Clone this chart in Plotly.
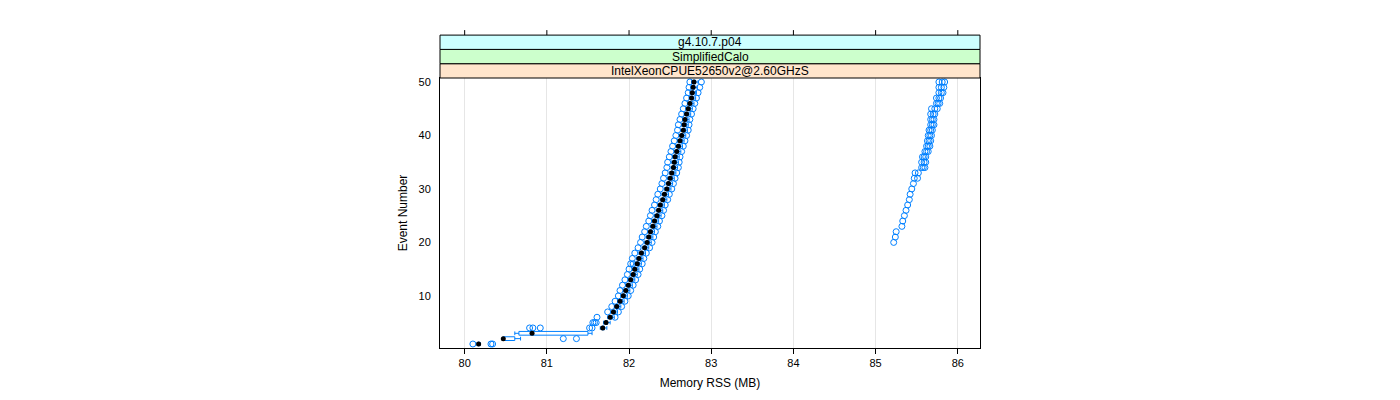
import plotly.graph_objects as go

# memory RSS per event, summarised as box stats (MB)
events = list(range(1, 51))

median = [80.17, 80.47, 80.82, 81.68, 81.72, 81.77, 81.81, 81.85, 81.89, 81.93,
          81.96, 81.99, 82.02, 82.05, 82.07, 82.10, 82.12, 82.15, 82.19, 82.22,
          82.24, 82.26, 82.29, 82.31, 82.34, 82.36, 82.38, 82.41, 82.43, 82.46,
          82.48, 82.50, 82.52, 82.54, 82.55, 82.56, 82.58, 82.60, 82.62, 82.64,
          82.66, 82.67, 82.68, 82.70, 82.72, 82.74, 82.76, 82.77, 82.78, 82.79]

q1 = [80.16, 80.47, 80.66, 81.67, 81.71, 81.76, 81.80, 81.84, 81.88, 81.92,
      81.95, 81.98, 82.01, 82.04, 82.06, 82.09, 82.11, 82.14, 82.18, 82.21,
      82.23, 82.25, 82.28, 82.30, 82.33, 82.35, 82.37, 82.40, 82.42, 82.45,
      82.47, 82.49, 82.51, 82.53, 82.54, 82.55, 82.57, 82.59, 82.61, 82.63,
      82.65, 82.66, 82.67, 82.69, 82.71, 82.73, 82.75, 82.76, 82.77, 82.78]

q3 = [80.18, 80.61, 81.50, 81.70, 81.74, 81.79, 81.83, 81.87, 81.91, 81.95,
      81.98, 82.01, 82.04, 82.07, 82.09, 82.12, 82.14, 82.17, 82.21, 82.24,
      82.26, 82.28, 82.31, 82.33, 82.36, 82.38, 82.40, 82.43, 82.45, 82.48,
      82.50, 82.52, 82.54, 82.56, 82.57, 82.58, 82.60, 82.62, 82.64, 82.66,
      82.68, 82.69, 82.70, 82.72, 82.74, 82.76, 82.78, 82.79, 82.80, 82.81]

lower = [80.15, 80.46, 80.61, 81.65, 81.69, 81.74, 81.78, 81.82, 81.86, 81.90,
         81.93, 81.96, 81.99, 82.02, 82.04, 82.07, 82.09, 82.12, 82.16, 82.19,
         82.21, 82.23, 82.26, 82.28, 82.31, 82.33, 82.35, 82.38, 82.40, 82.43,
         82.45, 82.47, 82.49, 82.51, 82.52, 82.53, 82.55, 82.57, 82.59, 82.61,
         82.63, 82.64, 82.65, 82.67, 82.69, 82.71, 82.73, 82.74, 82.75, 82.76]

upper = [80.19, 80.68, 81.55, 81.73, 81.77, 81.82, 81.86, 81.90, 81.94, 81.98,
         82.01, 82.04, 82.07, 82.10, 82.12, 82.15, 82.17, 82.20, 82.24, 82.27,
         82.29, 82.31, 82.34, 82.36, 82.39, 82.41, 82.43, 82.46, 82.48, 82.51,
         82.53, 82.55, 82.57, 82.59, 82.60, 82.61, 82.63, 82.65, 82.67, 82.69,
         82.71, 82.72, 82.73, 82.75, 82.77, 82.79, 82.81, 82.82, 82.83, 82.84]

# outliers for each event (same order as events)
outliers = [
    [80.10, 80.32, 80.34],
    [81.20, 81.36],
    [],
    [80.79, 80.83, 80.92, 81.52, 81.55],
    [81.56, 81.58, 81.60],
    [81.61, 81.83],
    [81.74, 81.87],
    [81.79, 81.91],
    [81.83, 81.95],
    [81.87, 81.99],
    [81.89, 82.02],
    [81.92, 82.05],
    [81.95, 82.08],
    [81.98, 82.11],
    [82.00, 82.13],
    [82.02, 82.05, 82.16],
    [82.04, 82.18],
    [82.07, 82.21],
    [82.11, 82.25],
    [82.14, 82.28, 85.22],
    [82.16, 82.30, 85.24],
    [82.19, 82.32, 85.25],
    [82.21, 82.35, 85.32],
    [82.24, 82.37, 85.33],
    [82.26, 82.40, 85.35],
    [82.28, 82.42, 85.37],
    [82.31, 82.44, 85.39],
    [82.33, 82.47, 85.41],
    [82.35, 82.49, 85.42],
    [82.38, 82.52, 85.44],
    [82.40, 82.54, 85.46],
    [82.42, 82.56, 85.47, 85.51],
    [82.44, 82.58, 85.48, 85.52],
    [82.46, 82.60, 85.56, 85.58, 85.60],
    [82.47, 82.61, 85.56, 85.59, 85.61],
    [82.49, 82.62, 85.57, 85.59, 85.61],
    [82.51, 82.64, 85.60, 85.62, 85.64],
    [82.53, 82.66, 85.62, 85.64, 85.66],
    [82.55, 82.68, 85.63, 85.65, 85.67],
    [82.57, 82.70, 85.64, 85.66, 85.68],
    [82.59, 82.72, 85.65, 85.67, 85.69],
    [82.60, 82.73, 85.67, 85.69, 85.71],
    [82.62, 82.74, 85.67, 85.69, 85.71],
    [82.64, 82.76, 85.67, 85.70, 85.72],
    [82.66, 82.78, 85.68, 85.72, 85.75],
    [82.68, 82.80, 85.74, 85.76, 85.78],
    [82.70, 82.82, 85.74, 85.77, 85.79],
    [82.72, 82.84, 85.77, 85.80, 85.82],
    [82.73, 82.86, 85.77, 85.80, 85.83],
    [82.74, 82.88, 85.77, 85.81, 85.84],
]

strips = ["IntelXeonCPUE52650v2@2.60GHzS", "SimplifiedCalo", "g4.10.7.p04"]
strip_colors = ["#ffe5cc", "#ccffcc", "#ccffff"]
xticks = [80, 81, 82, 83, 84, 85, 86]

BLUE = "#0080ff"
FONT = "Liberation Sans, Arial, sans-serif"

out_x, out_y = [], []
for ev, vals in zip(events, outliers):
    for v in vals:
        out_x.append(v)
        out_y.append(ev)

fig = go.Figure()

fig.add_trace(go.Box(
    y=events, q1=q1, median=median, q3=q3,
    lowerfence=lower, upperfence=upper,
    orientation="h", width=0.7, whiskerwidth=1,
    line=dict(color=BLUE, width=1), fillcolor="rgba(0,0,0,0)",
    boxpoints=False, showlegend=False, hoverinfo="skip",
))

fig.add_trace(go.Scatter(
    x=out_x, y=out_y, mode="markers", showlegend=False,
    marker=dict(symbol="circle-open", size=6, color=BLUE, line=dict(width=1)),
))

fig.add_trace(go.Scatter(
    x=median, y=events, mode="markers", showlegend=False,
    marker=dict(symbol="circle", size=5, color="black"),
))

# strips above the panel
panel_h = 270.0
sh = 14.3 / panel_h
for i, (lab, col) in enumerate(zip(strips, strip_colors)):
    y0 = 1 + i * sh
    fig.add_shape(type="rect", xref="paper", yref="paper", x0=0, x1=1,
                  y0=y0, y1=y0 + sh, fillcolor=col,
                  line=dict(color="black", width=1), layer="above")
    fig.add_annotation(text=lab, xref="paper", yref="paper", x=0.5,
                       y=y0 + sh / 2, showarrow=False, yanchor="middle",
                       font=dict(family=FONT, size=12, color="black"))

# top ticks above the strips
top = 1 + 3 * sh
for t in xticks:
    fig.add_shape(type="line", xref="x", yref="paper", x0=t, x1=t,
                  y0=top, y1=top + 5 / panel_h,
                  line=dict(color="black", width=1))

# page body has an 8px margin, so offset margins accordingly
fig.update_layout(
    width=1400, height=400, autosize=False,
    margin=dict(l=432, r=428, t=70, b=60),
    plot_bgcolor="white", paper_bgcolor="white",
    font=dict(family=FONT, size=11, color="black"),
    xaxis=dict(
        range=[79.70, 86.27], tickvals=xticks, ticks="outside", ticklen=5,
        tickcolor="black", showgrid=True, gridcolor="#e6e6e6", zeroline=False,
        showline=True, linecolor="black", mirror=True,
        title=dict(text="Memory RSS (MB)", font=dict(size=12), standoff=10),
    ),
    yaxis=dict(
        range=[0.25, 50.75], tickvals=[10, 20, 30, 40, 50], ticks="",
        showgrid=False, zeroline=False, showline=True, linecolor="black",
        mirror=True, ticklabelstandoff=6,
        title=dict(text="Event Number", font=dict(size=12), standoff=8),
    ),
)

fig.write_html("out.html")
